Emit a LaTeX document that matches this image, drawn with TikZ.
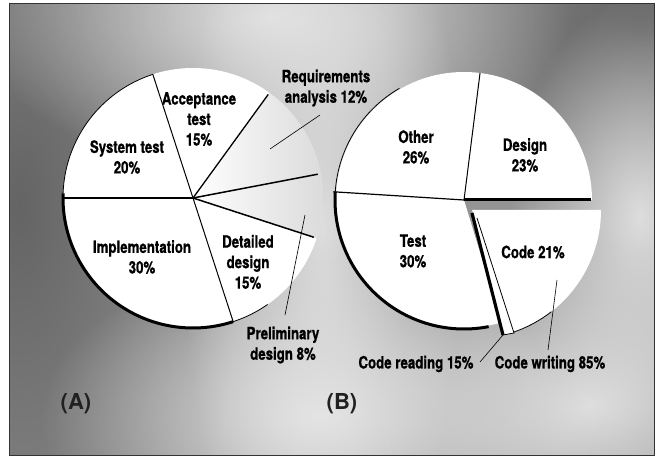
\documentclass[tikz,border=0pt]{standalone}
\usepackage{fontspec}
\usetikzlibrary{fadings}
\setmainfont{TeX Gyre Heros}
\newfontfamily\labfont{TeX Gyre Heros}[FakeStretch=0.78, FakeBold=0.8]
\definecolor{bgbase}{gray}{0.58}
\definecolor{bglight}{gray}{0.92}
\definecolor{bgdark}{gray}{0.36}
\definecolor{tagcol}{gray}{0.13}
\tikzfading[name=softblob, inner color=transparent!15, outer color=transparent!100]
\tikzfading[name=rightfade, left color=transparent!100, right color=transparent!45]
\tikzset{
  lab/.style={font=\labfont\bfseries\fontsize{17}{20.5}\selectfont, align=center, text=black, inner sep=0pt},
  tag/.style={font=\bfseries\fontsize{22}{24}\selectfont, text=tagcol, inner sep=0pt},
  radius line/.style={line width=1.3pt, black},
  thin arc/.style={line width=0.8pt, black},
  thick arc/.style={line width=3pt, black},
  pointer/.style={line width=0.6pt, black},
  blob/.style={path fading=softblob}
}
\begin{document}
\begin{tikzpicture}[x=1pt,y=1pt]
\useasboundingbox (0,0) rectangle (659,456);
\fill[white] (0,0) rectangle (659,456);
% background
\begin{scope}
  \clip (9,1) rectangle (654,452);
  \fill[bgbase] (9,1) rectangle (654,452);
  \fill[blob, bgdark] (20,250) ellipse [x radius=220, y radius=520];
  \fill[blob, bgdark] (640,430) ellipse [x radius=260, y radius=200];
  \fill[blob, bglight] (270,440) ellipse [x radius=300, y radius=160];
  \fill[blob, bglight] (322,230) ellipse [x radius=140, y radius=420];
  \fill[blob, bglight] (320,40) ellipse [x radius=280, y radius=160];
  \fill[blob, bglight] (590,50) ellipse [x radius=220, y radius=160];
  \fill[blob, bglight] (640,240) ellipse [x radius=130, y radius=220];
\end{scope}
\draw[line width=1pt, black!80] (9,1) rectangle (654,452);

% ---------- Pie A ----------
\coordinate (A) at (193,258);
\fill[white] (A) circle [radius=130];
\fill[gray!55, path fading=rightfade] (A) -- ++(-18:130) arc[start angle=-18, end angle=54, radius=130] -- cycle;
\draw[thin arc] (A) ++(108:130) arc[start angle=108, end angle=178, radius=130];
\draw[thick arc] (A) ++(178:130) arc[start angle=178, end angle=288, radius=130];
\draw[thin arc] (A) ++(288:130) arc[start angle=288, end angle=305, radius=130];
\draw[radius line, line width=2pt] (A) -- ++(180:130);
\draw[radius line, line width=1pt] (A) -- ++(108:130);
\draw[radius line] (A) -- ++(54:128);
\draw[radius line, line width=1.5pt] (A) -- ++(10.8:127);
\draw[radius line, line width=1.5pt] (A) -- ++(-18:127);
\draw[radius line, line width=1pt] (A) -- ++(-72:130);

\node[lab] (sys) at (127,299) {System test\\20\%};
\node[lab] (acc) at (199,337) {Acceptance\\test\\15\%};
\node[lab] (req) at (326,368) {Requirements\\analysis 12\%};
\node[lab] (imp) at (142,199) {Implementation\\30\%};
\node[lab] (det) at (248,194) {Detailed\\design\\15\%};
\node[lab] (pre) at (283,111) {Preliminary\\design 8\%};

\coordinate (reqin) at (270,307);
\coordinate (reqout) at (320,341);
\draw[pointer] (reqin) -- (reqout);
\coordinate (prein) at (305,241);
\coordinate (preout) at (285,141);
\draw[pointer] (prein) -- (preout);

% ---------- Pie B ----------
\coordinate (B) at (464,256);
\fill[white] (B) -- ++(0:128) arc[start angle=0, end angle=287, radius=128] -- cycle;
\draw[thin arc] (B) ++(120:129) arc[start angle=120, end angle=176.4, radius=129];
\draw[thick arc] (B) ++(176.4:129) arc[start angle=176.4, end angle=281, radius=129];
\draw[radius line, line width=1pt] (B) -- ++(82.8:128);
\draw[radius line, line width=1.2pt] (B) -- ++(176.4:131);
\draw[line width=3pt] (B) -- ++(0:127);

% code wedge (exploded)
\coordinate (P) at (472,246);
\fill[white] (P) -- ++(0:129) arc[start angle=0, end angle=-71.5, radius=129] -- cycle;
\draw[thin arc] (P) ++(-71.5:129) arc[start angle=-71.5, end angle=-52, radius=129];
\coordinate (s1) at (472,243);
\coordinate (s2) at (503,121);
\coordinate (s3) at (514,123);
\coordinate (s4) at (477,238);
\fill[white] (s1) -- (s2) -- (s3) -- (s4) -- cycle;
\draw[line width=0.8pt] (s4) -- (s3) -- (s2);
\draw[line width=3.2pt] (s1) -- (s2);

\node[lab] (oth) at (416,309) {Other\\26\%};
\node[lab] (des) at (525,301) {Design\\23\%};
\node[lab] (tst) at (413,205) {Test\\30\%};
\node[lab] (code) at (533,204) {Code 21\%};
\node[lab] (cread) at (416,92) {Code reading 15\%};
\node[lab] (cwrite) at (550,92) {Code writing 85\%};

\coordinate (crin) at (480,94);
\draw[pointer] (crin) -- (s2);
\coordinate (cwin) at (557,176);
\coordinate (cwout) at (548,106);
\draw[pointer] (cwin) -- (cwout);

\node[tag] (tagA) at (76,52) {(A)};
\node[tag] (tagB) at (342,52) {(B)};
\end{tikzpicture}
\end{document}
